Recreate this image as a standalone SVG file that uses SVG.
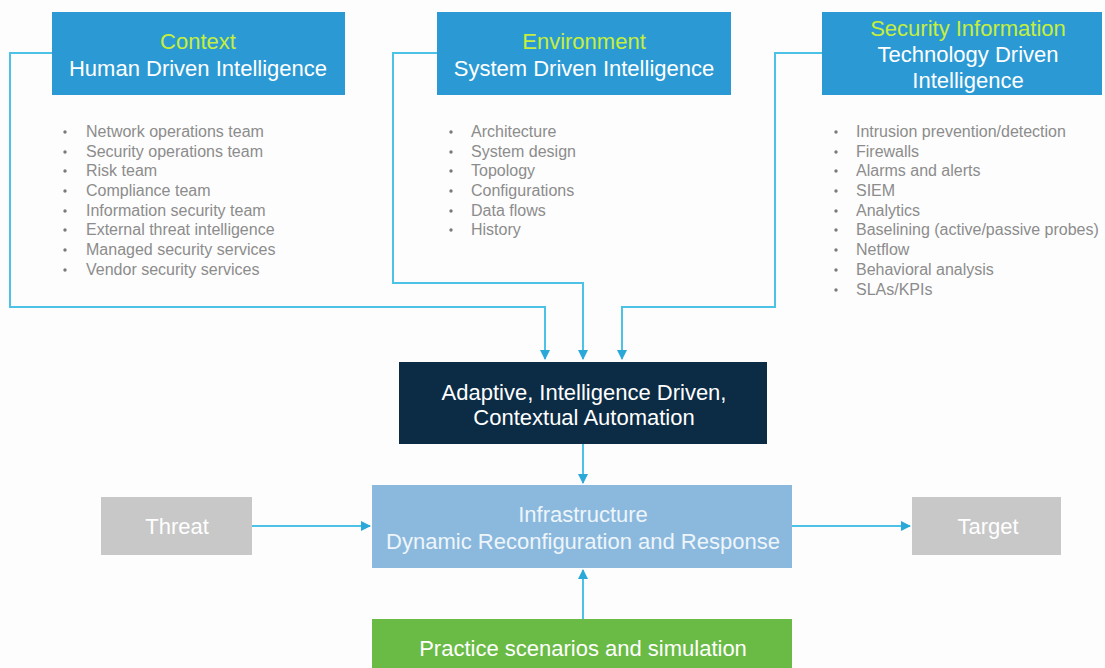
<svg xmlns="http://www.w3.org/2000/svg" width="1105" height="668" viewBox="0 0 1105 668">
<style>
.hdr{fill:#2b9ad4}
.t{font-family:"Liberation Sans",Arial,sans-serif;text-anchor:middle;font-size:22px}
.hl{fill:#c6ee3c}
.wh{fill:#ffffff}
.li{font-family:"Liberation Sans",Arial,sans-serif;font-size:16px;fill:#8c8c8c}
.b{fill:#7a7a7a}
.c{fill:none;stroke:#4cc3e6;stroke-width:2}
</style>
<defs>
<marker id="ah" viewBox="0 0 10 10" refX="9" refY="5" markerWidth="5" markerHeight="5" orient="auto">
<path d="M0,0 L10,5 L0,10 z" fill="#2aa9d8"/>
</marker>
</defs>
<rect width="1105" height="668" fill="#fdfdfd"/>
<g id="connectors">
<path class="c" d="M52,53 H10 V307 H545 V359" marker-end="url(#ah)"/>
<path class="c" d="M437,53 H393 V283 H583 V359" marker-end="url(#ah)"/>
<path class="c" d="M822,53 H775 V307 H622 V359" marker-end="url(#ah)"/>
<path class="c" d="M583,444 V483" marker-end="url(#ah)"/>
<path class="c" d="M583,619 V570" marker-end="url(#ah)"/>
<path class="c" d="M252,526 H370" marker-end="url(#ah)"/>
<path class="c" d="M792,526 H910" marker-end="url(#ah)"/>
</g>
<g id="context">
<rect class="hdr" x="52" y="12" width="293" height="83"/>
<text class="t hl" x="198" y="49">Context</text>
<text class="t wh" x="198" y="76">Human Driven Intelligence</text>
<g class="li">
<text x="86" y="137">Network operations team</text>
<text x="86" y="157">Security operations team</text>
<text x="86" y="176">Risk team</text>
<text x="86" y="196">Compliance team</text>
<text x="86" y="216">Information security team</text>
<text x="86" y="235">External threat intelligence</text>
<text x="86" y="255">Managed security services</text>
<text x="86" y="275">Vendor security services</text>
</g>
<g class="b">
<circle cx="65" cy="132" r="1.7"/><circle cx="65" cy="152" r="1.7"/><circle cx="65" cy="171" r="1.7"/><circle cx="65" cy="191" r="1.7"/>
<circle cx="65" cy="211" r="1.7"/><circle cx="65" cy="230" r="1.7"/><circle cx="65" cy="250" r="1.7"/><circle cx="65" cy="270" r="1.7"/>
</g>
</g>
<g id="environment">
<rect class="hdr" x="437" y="12" width="294" height="83"/>
<text class="t hl" x="584" y="49">Environment</text>
<text class="t wh" x="584" y="76">System Driven Intelligence</text>
<g class="li">
<text x="471" y="137">Architecture</text>
<text x="471" y="157">System design</text>
<text x="471" y="176">Topology</text>
<text x="471" y="196">Configurations</text>
<text x="471" y="216">Data flows</text>
<text x="471" y="235">History</text>
</g>
<g class="b">
<circle cx="451" cy="132" r="1.7"/><circle cx="451" cy="152" r="1.7"/><circle cx="451" cy="171" r="1.7"/>
<circle cx="451" cy="191" r="1.7"/><circle cx="451" cy="211" r="1.7"/><circle cx="451" cy="230" r="1.7"/>
</g>
</g>
<g id="security">
<rect class="hdr" x="822" y="12" width="280" height="83"/>
<text class="t hl" x="968" y="36">Security Information</text>
<text class="t wh" x="968" y="62">Technology Driven</text>
<text class="t wh" x="968" y="88">Intelligence</text>
<g class="li">
<text x="856" y="137">Intrusion prevention/detection</text>
<text x="856" y="157">Firewalls</text>
<text x="856" y="176">Alarms and alerts</text>
<text x="856" y="196">SIEM</text>
<text x="856" y="216">Analytics</text>
<text x="856" y="235">Baselining (active/passive probes)</text>
<text x="856" y="255">Netflow</text>
<text x="856" y="275">Behavioral analysis</text>
<text x="856" y="295">SLAs/KPIs</text>
</g>
<g class="b">
<circle cx="836" cy="132" r="1.7"/><circle cx="836" cy="152" r="1.7"/><circle cx="836" cy="171" r="1.7"/>
<circle cx="836" cy="191" r="1.7"/><circle cx="836" cy="211" r="1.7"/><circle cx="836" cy="230" r="1.7"/>
<circle cx="836" cy="250" r="1.7"/><circle cx="836" cy="270" r="1.7"/><circle cx="836" cy="290" r="1.7"/>
</g>
</g>
<g id="adaptive">
<rect x="399" y="362" width="368" height="82" fill="#0c2b45"/>
<text class="t wh" x="584" y="400">Adaptive, Intelligence Driven,</text>
<text class="t wh" x="584" y="425">Contextual Automation</text>
</g>
<g id="infrastructure">
<rect x="372" y="485" width="420" height="83" fill="#8bb9de"/>
<text class="t" fill="#eef5fb" x="583" y="522">Infrastructure</text>
<text class="t" fill="#eef5fb" x="583" y="549">Dynamic Reconfiguration and Response</text>
</g>
<g id="threat">
<rect x="101" y="497" width="151" height="58" fill="#c8c8c8"/>
<text class="t wh" x="177" y="534">Threat</text>
</g>
<g id="target">
<rect x="912" y="497" width="149" height="58" fill="#c8c8c8"/>
<text class="t wh" x="988" y="534">Target</text>
</g>
<g id="practice">
<rect x="372" y="619" width="420" height="49" fill="#6abb45"/>
<text class="t wh" x="583" y="656">Practice scenarios and simulation</text>
</g>
</svg>
